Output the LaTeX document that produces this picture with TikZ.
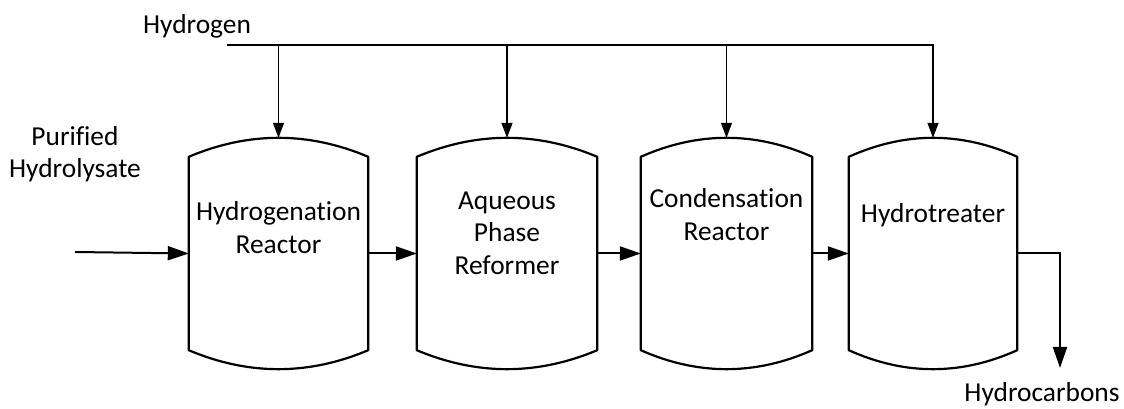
\documentclass[tikz,border=0pt]{standalone}
\usepackage{fontspec}
\setmainfont[Ligatures=NoCommon]{Carlito}
\usetikzlibrary{arrows.meta}
\begin{document}
\begin{tikzpicture}[x=1pt,y=1pt,
  font=\fontsize{27.4}{32.5}\selectfont,
  vessel/.style={minimum height=193pt,inner sep=0pt},
  flow/.style={line width=2pt,-{Triangle[length=21pt,width=14pt]}},
  harrow/.style={line width=1.4pt,-{Triangle[length=15pt,width=11pt]}},
  lbl/.style={align=center,inner sep=0pt}]
\useasboundingbox (0,0) rectangle (1124,409);
% reactors
\foreach \n/\x/\w in {hr/278.5/179,apr/507/180,cr/726.5/171,ht/933/168}{
  \node[vessel,minimum width=\w pt] (\n) at (\x,155.5) {};
  \coordinate (\n-top) at ([yshift=19pt]\n.north);
  \draw[line width=2.2pt,line join=round] (\n.south west) -- (\n.north west)
    .. controls +(\w/3,25.3) and +(-\w/3,25.3) .. (\n.north east) -- (\n.south east)
    .. controls +(-\w/3,-25.3) and +(\w/3,-25.3) .. (\n.south west) -- cycle;
}
\node[lbl] (hr-txt) at ([yshift=26pt]hr.center) {Hydrogenation\\Reactor};
\node[lbl] (apr-txt) at ([yshift=20.5pt]apr.center) {Aqueous\\Phase\\Reformer};
\node[lbl] (cr-txt) at ([yshift=39pt]cr.center) {Condensation\\Reactor};
\node[lbl] (ht-txt) at ([yshift=38.5pt]ht.center) {Hydrotreater};
% hydrogen header
\node (h2-lbl) at (197,383) {Hydrogen};
\coordinate (h2) at (227,364);
\draw[harrow] (h2) -| (ht-top);
\foreach \n in {hr,apr,cr} \draw[harrow] (h2 -| \n-top) -- (\n-top);
% feed and product
\node[lbl] (feed-lbl) at (75,255) {Purified\\Hydrolysate};
\coordinate (feed) at (75,157);
\draw[flow] (feed) -- (hr.west);
\draw[flow] (hr.east) -- (apr.west);
\draw[flow] (apr.east) -- (cr.west);
\draw[flow] (cr.east) -- (ht.west);
\coordinate (out) at (1060,41);
\draw[flow] (ht.east) -| (out);
\node[lbl] (hc-lbl) at (1042,15) {Hydrocarbons};
\end{tikzpicture}
\end{document}
